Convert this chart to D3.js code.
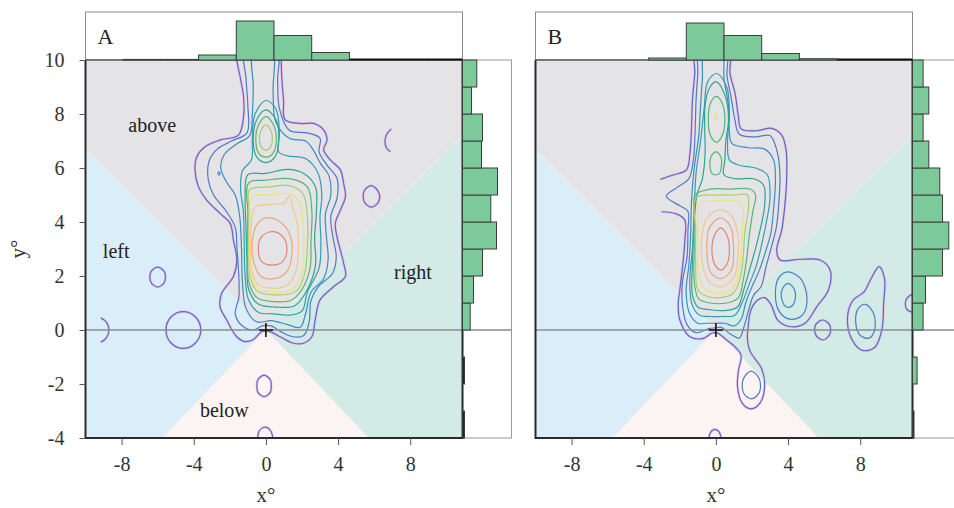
<!DOCTYPE html>
<html>
<head>
<meta charset="utf-8">
<script src="https://cdn.jsdelivr.net/npm/d3@7"></script>
<style>
body { margin: 0; background: #fff; }
svg { display: block; font-family: "Liberation Serif", "Times New Roman", serif; }
</style>
</head>
<body>
<div id="chart"></div>
<script>
// ---- values ----
const xTicks = [-8, -4, 0, 4, 8];
const yTicks = [10, 8, 6, 4, 2, 0, -2, -4];
const xDomain = [-10, 10.9];
const yDomain = [-4, 10];

// marginal histograms (top: x bins, right: y bins); null = bin not drawn
const topBinEdges = [-10, -7.91, -5.82, -3.73, -1.64, 0.45, 2.54, 4.63, 6.72, 8.81, 10.9];
const topHistA = [null, 0.6, 0.6, 5, 39, 24.5, 7.5, 0, 0, 0];
const topHistB = [null, null, null, 2, 37, 24.5, 6.5, 1.3, 0, 0];
const rightBinEdges = [-4, -3, -2, -1, 0, 1, 2, 3, 4, 5, 6, 7, 8, 9, 10];
const rightHistA = [2, 0, 2, 0, 7.7, 11, 20, 34, 28.3, 35, 19, 20, 9, 14.3];
const rightHistB = [1.5, 0, 4.6, 0, 10.6, 13, 30, 36.3, 30, 27.3, 16.3, 10.6, 16.3, 10.6];

// direction sectors around the origin
const regionAbove = [[0, 0], [-10, 6.67], [-10, 10], [10.9, 10], [10.9, 7.2]];
const regionLeft = [[0, 0], [-10, 6.67], [-10, -4], [-5.75, -4]];
const regionRight = [[0, 0], [5.7, -4], [10.9, -4], [10.9, 7.2]];
const regionBelow = [[0, 0], [-5.75, -4], [5.7, -4]];
const regionLabels = [
    { text: 'above', at: [-6.3, 7.5] },
    { text: 'left', at: [-8.3, 2.85] },
    { text: 'right', at: [8.15, 2.05] },
    { text: 'below', at: [-2.3, -3.05] }
];

// density contour lines, level 1 = outermost
const contoursA = [
    { level: 1, pts: [[-1.61,10.4],[-1.61,10.0],[-1.43,9.38],[-1.24,8.64],[-1.24,7.9],[-1.52,7.22],[-2.54,7.04],[-3.37,6.79],[-3.83,6.42],[-3.93,5.93],[-3.74,5.31],[-3.28,4.81],[-2.54,4.32],[-1.98,3.95],[-1.8,3.33],[-1.61,2.59],[-1.8,1.98],[-2.45,1.36],[-2.54,0.86],[-2.17,0.37],[-1.62,-0.25],[-1.15,-0.43],[-0.69,-0.35],[-0.23,-0.06],[0.23,-0.06],[0.79,-0.25],[1.53,-0.49],[2.08,-0.49],[2.55,-0.25],[2.73,0.37],[3.0,1.11],[3.75,1.6],[4.41,1.98],[4.31,2.47],[4.13,2.96],[3.94,3.46],[3.85,3.95],[4.13,4.44],[4.41,4.94],[4.31,5.43],[4.13,5.93],[3.57,6.3],[3.2,6.67],[3.39,7.04],[3.2,7.41],[2.65,7.65],[1.91,7.65],[1.07,7.78],[0.98,8.52],[0.89,9.26],[0.85,10.0],[0.85,10.4]] },
    { level: 2, pts: [[-1.15,10.4],[-1.1,9.3],[-1.0,8.3],[-1.05,7.3],[-1.9,7.0],[-2.7,6.7],[-3.15,6.25],[-3.2,5.6],[-2.9,5.0],[-2.2,4.4],[-1.7,3.8],[-1.6,3.0],[-1.5,2.0],[-1.5,1.2],[-1.7,0.6],[-1.3,0.15],[-0.7,0.0],[-0.2,0.15],[0.3,0.15],[0.8,-0.05],[1.5,-0.25],[2.1,-0.2],[2.4,0.3],[2.5,1.1],[2.9,1.6],[3.7,2.1],[3.9,2.7],[3.7,3.5],[3.6,4.2],[3.95,4.9],[3.95,5.6],[3.4,6.1],[2.95,6.6],[3.0,7.1],[2.3,7.3],[1.3,7.4],[0.75,8.2],[0.65,9.2],[0.6,10.4]] },
    { level: 3, pts: [[-0.69,10.4],[-0.7,9.0],[-0.75,8.0],[-0.9,7.2],[-1.6,6.9],[-2.3,6.5],[-2.5,6.0],[-2.2,5.5],[-1.7,5.0],[-1.45,4.2],[-1.35,3.0],[-1.3,1.8],[-1.1,0.8],[-0.5,0.3],[0.3,0.35],[1.2,0.2],[1.9,0.1],[2.2,0.6],[2.5,1.4],[3.2,1.9],[3.45,2.6],[3.35,3.5],[3.3,4.3],[3.6,5.0],[3.5,5.7],[3.0,6.2],[2.6,6.7],[2.2,7.0],[1.3,7.1],[0.55,7.7],[0.4,8.8],[0.33,10.4]] },
    { level: 4, pts: [[0.0,8.5],[0.55,8.2],[0.75,7.3],[0.7,6.6],[1.2,6.45],[2.2,6.35],[2.9,5.8],[3.1,5.0],[3.0,4.2],[3.05,3.2],[2.95,2.3],[2.3,1.4],[2.0,0.7],[1.3,0.55],[0.4,0.6],[-0.4,0.65],[-0.95,1.1],[-1.15,2.0],[-1.2,3.2],[-1.25,4.4],[-1.4,5.2],[-1.3,5.9],[-0.8,6.3],[-0.75,7.1],[-0.6,8.0]] },
    { level: 5, pts: [[-1.0,5.75],[0.0,5.8],[1.2,5.95],[2.1,5.8],[2.75,5.3],[2.8,4.4],[2.7,3.4],[2.75,2.4],[2.3,1.5],[1.6,0.9],[0.6,0.85],[-0.4,0.95],[-0.95,1.5],[-1.05,2.6],[-1.1,3.8],[-1.15,4.9]] },
    { level: 5, pts: [[0.0,8.15],[0.55,7.8],[0.72,7.1],[0.5,6.4],[0.0,6.2],[-0.5,6.4],[-0.7,7.1],[-0.5,7.8]] },
    { level: 6, pts: [[-0.95,5.45],[0.0,5.55],[1.4,5.6],[2.3,5.3],[2.55,4.4],[2.5,3.3],[2.45,2.3],[2.0,1.5],[1.4,1.1],[0.5,1.05],[-0.5,1.2],[-0.95,1.8],[-1.0,3.0],[-1.0,4.3]] },
    { level: 6, pts: [[0.0,7.9],[0.42,7.6],[0.58,7.1],[0.4,6.55],[0.0,6.4],[-0.4,6.55],[-0.56,7.1],[-0.4,7.6]] },
    { level: 7, pts: [[-0.9,5.2],[0.2,5.3],[1.3,5.35],[2.05,5.05],[2.3,4.2],[2.3,3.1],[2.15,2.1],[1.7,1.45],[0.5,1.3],[-0.5,1.45],[-0.9,2.1],[-0.95,3.3],[-0.93,4.4]] },
    { level: 7, pts: [[0.0,7.6],[0.28,7.38],[0.36,7.1],[0.26,6.78],[0.0,6.65],[-0.26,6.78],[-0.36,7.1],[-0.28,7.38]] },
    { level: 8, pts: [[-0.8,4.95],[0.3,5.0],[1.25,5.05],[1.85,4.75],[2.05,4.0],[2.1,3.0],[1.95,2.0],[1.45,1.5],[0.4,1.4],[-0.5,1.55],[-0.88,2.2],[-0.92,3.3],[-0.88,4.3]] },
    { level: 9, pts: [[-0.6,4.55],[0.2,4.65],[1.0,4.7],[1.3,4.95],[1.5,4.5],[1.75,3.9],[1.8,3.0],[1.65,2.15],[1.15,1.65],[0.3,1.55],[-0.45,1.7],[-0.82,2.3],[-0.85,3.2],[-0.8,4.0]] },
    { level: 10, pts: [[0.0,4.15],[0.8,4.0],[1.35,3.5],[1.45,2.9],[1.2,2.2],[0.5,1.9],[-0.3,2.0],[-0.7,2.6],[-0.75,3.3],[-0.5,3.9]] },
    { level: 11, pts: [[0.35,3.64],[0.95,3.45],[1.17,3.0],[0.95,2.55],[0.35,2.4],[-0.25,2.55],[-0.42,3.0],[-0.25,3.45]] },
    { level: 2, pts: [[-2.6,5.86],[-2.54,5.8],[-2.6,5.74],[-2.66,5.8]] },
    { level: 1, pts: [[5.85,5.35],[6.25,5.1],[6.25,4.75],[5.85,4.55],[5.45,4.75],[5.45,5.15]] },
    { level: 1, open: true, pts: [[6.95,7.45],[6.7,7.25],[6.6,7.0],[6.68,6.75],[6.9,6.6]] },
    { level: 1, pts: [[-6.0,2.33],[-5.62,2.15],[-5.62,1.78],[-6.0,1.59],[-6.38,1.78],[-6.38,2.15]] },
    { level: 1, pts: [[-4.58,0.68],[-3.9,0.48],[-3.61,0.0],[-3.9,-0.48],[-4.58,-0.68],[-5.26,-0.48],[-5.54,0.0],[-5.26,0.48]] },
    { level: 1, open: true, pts: [[-9.15,0.45],[-8.85,0.3],[-8.7,0.0],[-8.85,-0.3],[-9.15,-0.45]] },
    { level: 1, pts: [[-0.1,-1.67],[0.25,-1.85],[0.3,-2.07],[0.25,-2.3],[-0.1,-2.47],[-0.45,-2.3],[-0.5,-2.07],[-0.45,-1.85]] },
    { level: 1, pts: [[-0.05,-3.6],[0.28,-3.75],[0.35,-4.1],[0.0,-4.3],[-0.4,-4.1],[-0.38,-3.75]] }
];

const contoursB = [
    { level: 1, open: true, pts: [[-3.02,4.38],[-2.19,4.3],[-1.72,4.07],[-1.72,3.33],[-1.81,2.59],[-2.0,1.48],[-2.09,0.99],[-2.0,0.37],[-1.44,-0.25],[-0.7,-0.31],[-0.24,-0.12],[0.04,-0.1],[0.59,-0.37],[1.1,-0.65],[1.4,-0.95],[1.25,-1.5],[1.2,-2.1],[1.45,-2.7],[1.95,-2.92],[2.45,-2.7],[2.7,-2.1],[2.55,-1.45],[2.15,-1.05],[1.9,-0.8],[1.75,-0.35],[1.8,0.2],[1.95,0.75],[2.3,1.1],[2.7,1.2],[3.05,0.95],[3.45,0.35],[4.2,0.12],[4.94,0.25],[5.59,0.86],[6.24,1.48],[6.33,2.22],[5.78,2.59],[4.67,2.62],[3.56,2.59],[3.37,2.96],[3.65,3.7],[3.85,4.81],[3.93,5.8],[3.89,6.67],[3.65,7.22],[3.09,7.47],[2.26,7.38],[1.4,7.45],[1.24,7.95],[1.06,8.77],[0.78,9.51],[0.74,10.4],[-1.11,10.4],[-1.17,9.51],[-1.3,8.52],[-1.35,7.53],[-1.44,6.54],[-1.63,5.93],[-2.37,5.74],[-3.07,5.58]] },
    { level: 2, pts: [[-0.9,10.4],[-1.0,9.5],[-1.1,8.5],[-1.15,7.4],[-1.25,6.3],[-1.5,5.6],[-2.1,5.3],[-2.75,4.95],[-2.0,4.6],[-1.55,4.4],[-1.55,3.7],[-1.6,2.7],[-1.85,1.8],[-1.85,0.9],[-1.6,0.2],[-1.1,-0.1],[-0.4,0.05],[0.0,0.08],[0.3,0.1],[0.8,-0.15],[1.3,-0.3],[1.55,0.1],[1.8,0.7],[2.1,1.3],[2.5,1.6],[2.8,2.4],[3.05,3.0],[3.35,3.8],[3.5,4.8],[3.55,5.8],[3.4,6.6],[3.0,7.2],[2.2,7.15],[1.3,7.25],[1.05,7.8],[0.85,8.6],[0.62,9.4],[0.56,10.4]] },
    { level: 3, pts: [[-0.61,10.4],[-0.75,9.3],[-0.85,8.3],[-0.95,7.2],[-1.2,6.0],[-1.35,4.8],[-1.4,3.5],[-1.5,2.4],[-1.65,1.4],[-1.45,0.6],[-1.0,0.25],[-0.5,0.25],[0.0,0.25],[0.5,0.25],[1.0,0.15],[1.4,0.4],[1.65,1.0],[2.0,1.6],[2.4,2.2],[2.75,2.9],[3.05,3.6],[3.2,4.5],[3.3,5.5],[3.2,6.3],[2.7,6.7],[1.8,6.75],[0.9,6.9],[0.75,7.3],[0.7,8.3],[0.45,9.3],[0.31,10.4]] },
    { level: 4, pts: [[0.05,9.5],[0.6,9.0],[0.75,8.0],[0.65,7.0],[0.75,6.3],[1.3,6.1],[2.2,6.0],[2.85,5.75],[3.0,4.9],[2.8,4.0],[2.55,3.2],[2.25,2.4],[1.85,1.7],[1.45,1.0],[1.05,0.55],[0.4,0.5],[-0.3,0.5],[-0.9,0.55],[-1.3,0.9],[-1.45,1.8],[-1.3,3.0],[-1.2,4.5],[-1.1,5.8],[-0.85,7.0],[-0.65,8.2],[-0.45,9.2]] },
    { level: 5, pts: [[0.0,9.2],[0.5,8.7],[0.7,7.8],[0.55,7.0],[0.5,6.3],[0.45,5.75],[1.1,5.6],[2.1,5.6],[2.65,5.35],[2.7,4.6],[2.45,3.7],[2.15,2.9],[1.85,2.2],[1.55,1.5],[1.2,0.85],[0.5,0.72],[-0.3,0.75],[-1.0,0.85],[-1.3,1.3],[-1.3,2.5],[-1.2,4.0],[-1.05,5.0],[-0.75,5.6],[-0.6,6.5],[-0.62,7.5],[-0.6,8.3],[-0.4,8.9]] },
    { level: 6, pts: [[-1.15,5.0],[-0.3,5.22],[0.8,5.22],[1.9,5.22],[2.2,5.0],[2.05,4.4],[1.85,3.5],[1.7,2.6],[1.5,1.8],[1.25,1.2],[0.6,1.0],[-0.3,1.0],[-0.95,1.15],[-1.2,1.8],[-1.2,3.0],[-1.2,4.2]] },
    { level: 6, pts: [[0.03,8.65],[0.35,8.4],[0.5,7.8],[0.35,7.2],[0.05,6.95],[-0.3,7.2],[-0.42,7.8],[-0.3,8.4]] },
    { level: 6, pts: [[0.0,6.6],[0.28,6.4],[0.31,6.1],[0.2,5.8],[0.0,5.74],[-0.22,5.8],[-0.33,6.1],[-0.28,6.4]] },
    { level: 7, pts: [[-1.1,4.9],[0.0,5.0],[1.0,5.0],[1.75,5.0],[1.8,4.5],[1.6,3.6],[1.5,2.6],[1.3,1.8],[0.95,1.35],[0.3,1.2],[-0.5,1.25],[-1.0,1.5],[-1.12,2.5],[-1.12,3.7]] },
    { level: 8, pts: [[-0.95,4.7],[0.0,4.78],[1.1,4.78],[1.5,4.5],[1.45,3.6],[1.35,2.6],[1.15,1.8],[0.8,1.45],[0.1,1.38],[-0.6,1.5],[-0.95,2.1],[-1.0,3.2],[-1.0,4.2]] },
    { level: 8, pts: [[0.0,8.0],[0.04,7.9],[0.0,7.8],[-0.04,7.9]] },
    { level: 9, pts: [[0.2,4.45],[0.85,4.25],[1.2,3.6],[1.22,2.7],[1.0,1.95],[0.3,1.6],[-0.4,1.8],[-0.75,2.5],[-0.78,3.4],[-0.5,4.15]] },
    { level: 10, pts: [[0.25,4.15],[0.8,3.85],[0.98,3.0],[0.85,2.2],[0.25,1.9],[-0.3,2.15],[-0.5,3.0],[-0.35,3.8]] },
    { level: 11, pts: [[0.27,3.78],[0.62,3.5],[0.75,3.0],[0.62,2.45],[0.27,2.22],[-0.08,2.45],[-0.22,3.0],[-0.08,3.5]] },
    { level: 2, pts: [[4.0,2.15],[4.7,1.9],[5.05,1.2],[4.8,0.55],[4.1,0.4],[3.5,0.7],[3.3,1.4],[3.5,1.95]] },
    { level: 3, pts: [[4.0,1.73],[4.35,1.5],[4.4,1.15],[4.2,0.88],[3.9,0.86],[3.67,1.1],[3.67,1.5]] },
    { level: 1, pts: [[5.9,0.37],[6.3,0.2],[6.32,-0.15],[5.95,-0.37],[5.55,-0.2],[5.5,0.15]] },
    { level: 1, pts: [[9.05,2.35],[9.35,1.9],[9.3,1.0],[9.2,0.0],[8.8,-0.65],[8.1,-0.75],[7.5,-0.3],[7.3,0.5],[7.6,1.1],[8.2,1.4],[8.6,1.9]] },
    { level: 2, pts: [[8.3,0.95],[8.75,0.6],[8.8,0.0],[8.5,-0.3],[8.0,-0.2],[7.75,0.3],[7.9,0.8]] },
    { level: 1, open: true, pts: [[10.95,1.35],[10.62,1.2],[10.5,0.98],[10.6,0.75],[10.95,0.65]] },
    { level: 1, pts: [[-0.05,-3.68],[0.2,-3.8],[0.25,-4.1],[-0.35,-4.1],[-0.3,-3.8]] },
    { level: 2, pts: [[1.95,-1.52],[2.4,-1.8],[2.42,-2.3],[2.0,-2.55],[1.55,-2.35],[1.5,-1.85]] }
];

// ---- drawing ----
const W = 954, H = 508;
const plotTop = 60, plotBottom = 438, plotWidth = 377;
const serif = '"Liberation Serif", "Times New Roman", serif';
const levelColors = ['#5f66cc', '#4f78c8', '#3a8dc2', '#2e9fb4', '#2aa592', '#58b46c',
                     '#a8cf62', '#ece27a', '#f4c689', '#f1a47b', '#e5836f'];
const regionFill = { above: '#e4e4e7', left: '#daeef9', right: '#d3ebe6', below: '#fcf4f2' };
const barFill = '#7cc99a';

const svg = d3.select('#chart').append('svg')
    .attr('width', W)
    .attr('height', H)
    .attr('font-family', serif);

function drawPanel(opts) {
    const x = d3.scaleLinear().domain(xDomain).range([opts.left, opts.left + plotWidth]);
    const y = d3.scaleLinear().domain(yDomain).range([plotBottom, plotTop]);
    const right = opts.left + plotWidth;
    const hTop = d3.scaleLinear().domain([0, 48]).range([plotTop, 12]);
    const wRight = d3.scaleLinear().domain([0, 48]).range([right, right + 48]);
    const g = svg.append('g');

    // marginal boxes
    g.append('rect')
        .attr('x', opts.left).attr('y', 12)
        .attr('width', plotWidth).attr('height', plotTop - 12)
        .attr('fill', '#fff').attr('stroke', '#8a8a8a').attr('stroke-width', 1);
    g.append('rect')
        .attr('x', right).attr('y', plotTop)
        .attr('width', 49).attr('height', plotBottom - plotTop)
        .attr('fill', '#fff').attr('stroke', '#9a9a9a').attr('stroke-width', 1);

    // plot area
    const clipId = 'clip-' + opts.name;
    svg.append('clipPath').attr('id', clipId)
        .append('rect')
        .attr('x', opts.left).attr('y', plotTop)
        .attr('width', plotWidth).attr('height', plotBottom - plotTop);
    const plot = g.append('g').attr('clip-path', `url(#${clipId})`);

    const poly = d3.line().x(d => x(d[0])).y(d => y(d[1]));
    [['above', regionAbove], ['left', regionLeft], ['right', regionRight], ['below', regionBelow]]
        .forEach(([name, pts]) => {
            plot.append('path')
                .attr('d', poly(pts) + 'Z')
                .attr('fill', regionFill[name])
                .attr('stroke', '#eeeeee')
                .attr('stroke-width', 0.8);
        });

    // horizontal reference at y = 0 (runs through the side histogram too)
    g.append('line')
        .attr('x1', opts.left).attr('x2', right + 49)
        .attr('y1', y(0)).attr('y2', y(0))
        .attr('stroke', '#8c8c8c').attr('stroke-width', 1.3);

    // contours
    const closedLine = d3.line().x(d => x(d[0])).y(d => y(d[1]))
        .curve(d3.curveCatmullRomClosed.alpha(0.5));
    const openLine = d3.line().x(d => x(d[0])).y(d => y(d[1]))
        .curve(d3.curveCatmullRom.alpha(0.5));
    const pathOf = c => (c.open ? openLine : closedLine)(c.pts);

    const lines = plot.append('g').attr('fill', 'none');
    lines.selectAll('path.halo')
        .data(opts.contours.filter(c => c.level === 1))
        .join('path')
        .attr('class', 'halo')
        .attr('d', pathOf)
        .attr('stroke', '#eeb0d8')
        .attr('stroke-opacity', 0.6)
        .attr('stroke-width', 2.6);
    lines.selectAll('path.level')
        .data(opts.contours)
        .join('path')
        .attr('class', 'level')
        .attr('d', pathOf)
        .attr('stroke', d => levelColors[d.level - 1])
        .attr('stroke-width', 1.2);

    // origin cross
    g.append('path')
        .attr('d', `M${x(0) - 7},${y(0)}H${x(0) + 7}M${x(0)},${y(0) - 7}V${y(0) + 7}`)
        .attr('stroke', '#111').attr('stroke-width', 1.6);

    if (opts.regionLabels) {
        g.selectAll('text.region')
            .data(regionLabels)
            .join('text')
            .attr('class', 'region')
            .attr('x', d => x(d.at[0]))
            .attr('y', d => y(d.at[1]))
            .attr('text-anchor', 'middle')
            .attr('dominant-baseline', 'middle')
            .attr('font-size', 20)
            .attr('fill', '#222')
            .text(d => d.text);
    }

    // frame
    g.append('path')
        .attr('d', `M${opts.left},${plotTop}V${plotBottom}H${right}V${plotTop}`)
        .attr('fill', 'none').attr('stroke', '#2a2a2a').attr('stroke-width', 2);
    g.append('line')
        .attr('x1', opts.left).attr('x2', right)
        .attr('y1', plotTop).attr('y2', plotTop)
        .attr('stroke', '#555').attr('stroke-width', 1.4);

    // top histogram
    const topBins = opts.topHist.map((v, i) => ({ v, x0: topBinEdges[i], x1: topBinEdges[i + 1] }))
        .filter(d => d.v !== null);
    g.selectAll('rect.topbar')
        .data(topBins.filter(d => d.v > 0))
        .join('rect')
        .attr('class', 'topbar')
        .attr('x', d => x(d.x0))
        .attr('y', d => hTop(d.v))
        .attr('width', d => x(d.x1) - x(d.x0))
        .attr('height', d => plotTop - hTop(d.v))
        .attr('fill', barFill)
        .attr('stroke', '#3c3c3c')
        .attr('stroke-width', 1);
    g.selectAll('line.topzero')
        .data(topBins.filter(d => d.v === 0))
        .join('line')
        .attr('class', 'topzero')
        .attr('x1', d => x(d.x0)).attr('x2', d => x(d.x1))
        .attr('y1', plotTop - 0.5).attr('y2', plotTop - 0.5)
        .attr('stroke', '#111').attr('stroke-width', 2.2);

    // right histogram
    const rightBins = opts.rightHist.map((v, i) => ({ v, y0: rightBinEdges[i], y1: rightBinEdges[i + 1] }));
    g.selectAll('rect.rightbar')
        .data(rightBins.filter(d => d.v > 0))
        .join('rect')
        .attr('class', 'rightbar')
        .attr('x', right)
        .attr('y', d => y(d.y1))
        .attr('width', d => wRight(d.v) - right)
        .attr('height', d => y(d.y0) - y(d.y1))
        .attr('fill', d => d.v < 3 ? '#222' : barFill)
        .attr('stroke', '#3c3c3c')
        .attr('stroke-width', 1);

    // axes
    const xAxis = g.append('g')
        .attr('transform', `translate(0,${plotBottom})`)
        .call(d3.axisBottom(x).tickValues(xTicks).tickSize(7).tickPadding(12)
            .tickFormat(d => String(d)));
    xAxis.attr('font-family', serif).attr('font-size', 20);
    xAxis.select('.domain').remove();
    xAxis.selectAll('line').attr('stroke', '#555');
    xAxis.selectAll('text').attr('fill', '#333');

    if (opts.yAxis) {
        const yAxis = g.append('g')
            .attr('transform', `translate(${opts.left},0)`)
            .call(d3.axisLeft(y).tickValues(yTicks).tickSize(6).tickPadding(15)
                .tickFormat(d => String(d)));
        yAxis.attr('font-family', serif).attr('font-size', 20);
        yAxis.select('.domain').remove();
        yAxis.selectAll('line').attr('stroke', '#555');
        yAxis.selectAll('text').attr('fill', '#333');

        g.append('text')
            .attr('transform', `translate(25,${y(3)}) rotate(-90)`)
            .attr('text-anchor', 'middle')
            .attr('font-size', 21)
            .attr('fill', '#333')
            .text('y°');
    }

    g.append('text')
        .attr('x', x(0))
        .attr('y', 502)
        .attr('text-anchor', 'middle')
        .attr('font-size', 21)
        .attr('fill', '#333')
        .text('x°');

    g.append('text')
        .attr('x', opts.left + 12)
        .attr('y', 44)
        .attr('font-size', 22)
        .attr('fill', '#222')
        .text(opts.name);
}

drawPanel({ name: 'A', left: 85.5, topHist: topHistA, rightHist: rightHistA,
            contours: contoursA, yAxis: true, regionLabels: true });
drawPanel({ name: 'B', left: 535.5, topHist: topHistB, rightHist: rightHistB,
            contours: contoursB, yAxis: false, regionLabels: false });
</script>
</body>
</html>
